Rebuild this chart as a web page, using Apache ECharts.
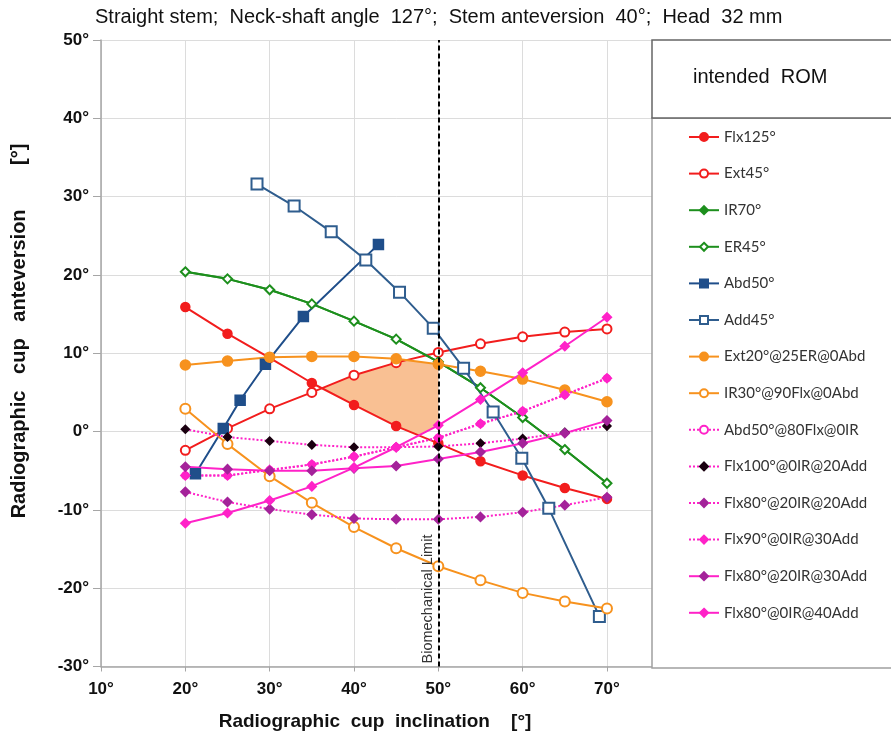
<!DOCTYPE html>
<html>
<head>
<meta charset="utf-8">
<script src="https://cdn.jsdelivr.net/npm/echarts@6/dist/echarts.min.js"></script>
<style>html,body{margin:0;padding:0;background:#fff;}#c{width:891px;height:743px;}</style>
</head>
<body>
<div id="c"></div>
<script>
// ---- data ----
const xs = [20, 25, 30, 35, 40, 45, 50, 55, 60, 65, 70];
const flx125 = [15.9, 12.5, 9.4, 6.2, 3.4, 0.7, -1.5, -3.8, -5.6, -7.2, -8.6];
const ext45 = [-2.4, 0.4, 2.9, 5.0, 7.2, 8.8, 10.1, 11.2, 12.1, 12.7, 13.1];
const ir70 = [20.4, 19.5, 18.1, 16.3, 14.1, 11.8, 8.9, 5.6, 1.8, -2.3, -6.6];
const er45 = [20.4, 19.5, 18.1, 16.3, 14.1, 11.8, 8.9, 5.6, 1.8, -2.3, -6.6];
const abd50X = [21.2, 24.5, 26.5, 29.5, 34.0, 42.9];
const abd50Y = [-5.4, 0.4, 4.0, 8.6, 14.7, 23.9];
const add45X = [28.5, 32.9, 37.3, 41.4, 45.4, 49.4, 53.0, 56.5, 59.9, 63.1, 69.1];
const add45Y = [31.6, 28.8, 25.5, 21.9, 17.8, 13.2, 8.1, 2.5, -3.4, -9.8, -23.6];
const ext20 = [8.5, 9.0, 9.5, 9.6, 9.6, 9.3, 8.6, 7.7, 6.7, 5.3, 3.8];
const ir30 = [2.9, -1.6, -5.7, -9.1, -12.2, -14.9, -17.2, -19.0, -20.6, -21.7, -22.6];
const abd50flx80 = [-5.6, -5.6, -4.9, -4.2, -3.2, -2.0, -0.8, 1.0, 2.6, 4.7, 6.8];
const flx100 = [0.3, -0.7, -1.2, -1.7, -2.0, -2.0, -1.9, -1.5, -0.9, -0.1, 0.7];
const flx80ir20add20 = [-7.7, -9.0, -9.9, -10.6, -11.1, -11.2, -11.2, -10.9, -10.3, -9.4, -8.4];
const flx90 = [-5.6, -5.6, -4.9, -4.2, -3.2, -2.0, -0.8, 1.0, 2.6, 4.7, 6.8];
const flx80ir20add30 = [-4.5, -4.8, -5.0, -5.0, -4.7, -4.4, -3.5, -2.6, -1.5, -0.2, 1.4];
const flx80ir0add40 = [-11.7, -10.4, -8.8, -7.0, -4.6, -2.0, 0.8, 4.1, 7.5, 10.9, 14.6];
const xTicks = [10, 20, 30, 40, 50, 60, 70];
const limitX = 50;
const names = ['Flx125°','Ext45°','IR70°','ER45°','Abd50°','Add45°','Ext20°@25ER@0Abd','IR30°@90Flx@0Abd',
  'Abd50°@80Flx@0IR','Flx100°@0IR@20Add','Flx80°@20IR@20Add','Flx90°@0IR@30Add','Flx80°@20IR@30Add','Flx80°@0IR@40Add'];

// ---- helpers ----
const pair = (X, Y) => X.map((x, i) => [x, Y[i]]);
function interp(Y, x) {
  for (let i = 0; i < xs.length - 1; i++) {
    if (x >= xs[i] && x <= xs[i + 1]) {
      const t = (x - xs[i]) / (xs[i + 1] - xs[i]);
      return Y[i] + t * (Y[i + 1] - Y[i]);
    }
  }
  return NaN;
}
// intended ROM region: below min(Ext45, Ext20), above max(Flx125, Flx80@0IR@40), left of limit
const upperEdge = x => Math.min(interp(ext45, x), interp(ext20, x));
const lowerEdge = x => Math.max(interp(flx125, x), interp(flx80ir0add40, x));
let x0 = xs[0];
for (let x = xs[0]; x <= limitX; x += 0.01) { if (upperEdge(x) >= lowerEdge(x)) { x0 = x; break; } }
const poly = [];
for (let x = x0; x < limitX; x += 0.1) poly.push([x, upperEdge(x)]);
poly.push([limitX, upperEdge(limitX)]);
poly.push([limitX, lowerEdge(limitX)]);
for (let x = limitX - 0.1; x > x0; x -= 0.1) poly.push([x, lowerEdge(x)]);

const RED = '#f21d1d', GREEN = '#1d8f1d', NAVY = '#1f4e8a', BLUE = '#2f5d8e', ORANGE = '#f7921e',
      PINK = '#ff22c8', PURPLE = '#a4239a', BLACK = '#1a0010';

function ln(name, data, color, symbol, size, opts) {
  opts = opts || {};
  return {
    name, type: 'line', data, symbol, symbolSize: size, smooth: false,
    lineStyle: { color: opts.lineColor || color, width: 2, type: opts.dash || 'solid' },
    itemStyle: { color: opts.markColor || color, borderColor: opts.markColor || color, borderWidth: opts.bw || 1.5 },
    emphasis: { disabled: true }, z: 2
  };
}

const series = [
  {
    type: 'custom', name: 'ROM', silent: true, z: 1, data: poly,
    renderItem: (params, api) => {
      if (params.dataIndex !== 0) return null;
      return { type: 'polygon', shape: { points: poly.map(p => api.coord(p)) }, style: { fill: '#f9c093' } };
    },
    markLine: {
      symbol: 'none', silent: true, z: 5,
      lineStyle: { color: '#000', type: [5, 3], width: 2 },
      label: { show: true, formatter: 'Biomechanical Limit', position: 'insideStartTop', color: '#333',
               fontSize: 14.5, fontFamily: 'Liberation Sans', distance: 3 },
      data: [{ xAxis: limitX }]
    }
  },
  ln(names[0], pair(xs, flx125), RED, 'circle', 9),
  ln(names[1], pair(xs, ext45), RED, 'emptyCircle', 9),
  ln(names[2], pair(xs, ir70), GREEN, 'diamond', 6),
  ln(names[3], pair(xs, er45), GREEN, 'emptyDiamond', 9),
  ln(names[4], pair(abd50X, abd50Y), NAVY, 'rect', 10),
  ln(names[5], pair(add45X, add45Y), BLUE, 'emptyRect', 11),
  ln(names[6], pair(xs, ext20), ORANGE, 'circle', 10),
  ln(names[7], pair(xs, ir30), ORANGE, 'emptyCircle', 10),
  ln(names[8], pair(xs, abd50flx80), PINK, 'emptyCircle', 6, { dash: 'dotted' }),
  ln(names[9], pair(xs, flx100), PINK, 'diamond', 8, { dash: 'dotted', markColor: BLACK }),
  ln(names[10], pair(xs, flx80ir20add20), PINK, 'diamond', 9, { dash: 'dotted', markColor: PURPLE }),
  ln(names[11], pair(xs, flx90), PINK, 'diamond', 9, { dash: 'dotted' }),
  ln(names[12], pair(xs, flx80ir20add30), PINK, 'diamond', 9, { markColor: PURPLE }),
  ln(names[13], pair(xs, flx80ir0add40), PINK, 'diamond', 9)
];

const chart = echarts.init(document.getElementById('c'), null, { renderer: 'canvas' });
chart.setOption({
  animation: false,
  backgroundColor: '#fff',
  grid: { left: 101, top: 40, width: 590.3, height: 626.5, containLabel: false },
  xAxis: {
    type: 'value', min: 10, max: 80, interval: 10,
    axisLine: { show: true, onZero: false, lineStyle: { color: '#a6a6a6', width: 1.5 } },
    axisTick: { show: true, length: 5, customValues: xTicks, lineStyle: { color: '#a6a6a6' } },
    splitLine: { show: true, lineStyle: { color: '#dcdcdc', width: 1 } },
    axisLabel: { customValues: xTicks, formatter: v => (xTicks.indexOf(v) >= 0 ? v + '°' : ''), fontWeight: 'bold', fontSize: 17,
                 color: '#111', fontFamily: 'Liberation Sans', margin: 14 }
  },
  yAxis: {
    type: 'value', min: -30, max: 50, interval: 10,
    axisLine: { show: true, onZero: false, lineStyle: { color: '#a6a6a6', width: 1.5 } },
    axisTick: { show: true, length: 8, lineStyle: { color: '#a6a6a6' } },
    splitLine: { show: true, lineStyle: { color: '#dcdcdc', width: 1 } },
    axisLabel: { formatter: '{value}°', fontWeight: 'bold', fontSize: 17, color: '#111',
                 fontFamily: 'Liberation Sans', margin: 12 }
  },
  legend: {
    show: true, orient: 'vertical', left: 688, top: 128, padding: 0, itemGap: 18.6, z: 10,
    itemWidth: 30, itemHeight: 10,
    data: names,
    textStyle: { fontSize: 15, color: '#333', fontFamily: 'Lato', lineHeight: 18 },
    selectedMode: false
  },
  graphic: [
    { type: 'rect', z: 3, shape: { x: 652, y: 118, width: 260, height: 550 },
      style: { fill: '#fff', stroke: '#a0a0a0', lineWidth: 1.5 } },
    { type: 'rect', z: 3, shape: { x: 652, y: 40, width: 260, height: 78 },
      style: { fill: '#fff', stroke: '#666', lineWidth: 1.5 } },
    { type: 'text', z: 4, x: 693, y: 77,
      style: { text: 'intended  ROM', font: '20px "Liberation Sans"', fill: '#111', textVerticalAlign: 'middle' } },
    { type: 'text', z: 4, x: 95, y: 17,
      style: { text: 'Straight stem;  Neck-shaft angle  127°;  Stem anteversion  40°;  Head  32 mm',
               font: '20px "Liberation Sans"', fill: '#111', textVerticalAlign: 'middle' } },
    { type: 'text', z: 4, x: 375, y: 722,
      style: { text: 'Radiographic  cup  inclination    [°]', font: 'bold 19px "Liberation Sans"', fill: '#111',
               textAlign: 'center', textVerticalAlign: 'middle' } },
    { type: 'text', z: 4, x: 19, y: 331, rotation: Math.PI / 2,
      style: { text: 'Radiographic   cup   anteversion        [°]', font: 'bold 20px "Liberation Sans"', fill: '#111',
               textAlign: 'center', textVerticalAlign: 'middle' } }
  ],
  series
});
</script>
</body>
</html>
